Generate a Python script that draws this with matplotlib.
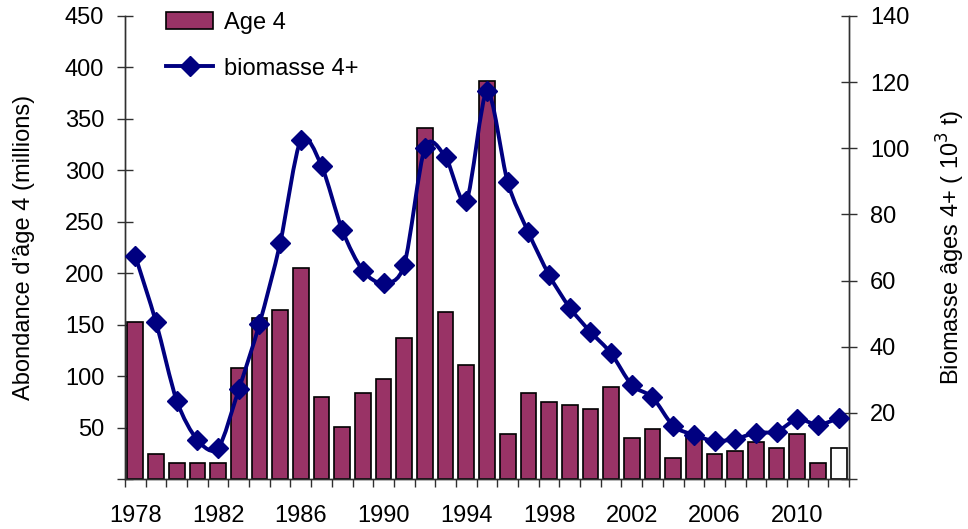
import matplotlib
matplotlib.use("Agg")
import matplotlib.pyplot as plt
from matplotlib.path import Path
from matplotlib.patches import PathPatch, Patch
from matplotlib.lines import Line2D
import numpy as np

plt.rcParams['font.family'] = ['Liberation Sans', 'DejaVu Sans']

years = list(range(1978, 2013))
age4 = [153, 24, 16, 16, 16, 108, 156, 164, 205, 80,
        51, 84, 97, 137, 341, 162, 111, 387, 44, 84,
        75, 72, 68, 89, 40, 49, 20, 42, 24, 27,
        36, 30, 44, 16, 30]
biomass = [67.4, 47.4, 23.7, 11.8, 9.3, 27.1, 46.9, 71.3, 102.5, 94.7,
           75.3, 63.0, 59.2, 64.8, 100.2, 97.3, 84.1, 117.3, 89.7, 74.6,
           61.7, 51.8, 44.5, 38.0, 28.4, 24.7, 16.1, 13.3, 11.5, 12.1,
           14.0, 14.3, 18.1, 16.4, 18.4]
xlabels = [str(y) if (y - 1978) % 4 == 0 else '' for y in years]

BAR = '#993366'
LINE = '#000080'
FS = 17

fig = plt.figure(figsize=(9.68, 5.29), dpi=100)
ax = fig.add_axes([125/968, 1-479/529, (849-125)/968, (479-16)/529])
ax2 = ax.twinx()

x = np.arange(len(years))
colors = [BAR] * (len(years) - 1) + ['white']
ax.bar(x, age4, width=0.76, color=colors, edgecolor='black', linewidth=1.2, zorder=2)
ax.set_xlim(-0.5, len(years) - 0.5)
ax.set_ylim(0, 450)
ax2.set_ylim(0, 140)

# smooth curve (Catmull-Rom style Bezier) through the biomass points
px = x.astype(float)
py = np.array(biomass, dtype=float)
verts = [(px[0], py[0])]
codes = [Path.MOVETO]
n = len(px)
k = 7.0
for i in range(n - 1):
    p0 = np.array([px[max(i-1, 0)], py[max(i-1, 0)]])
    p1 = np.array([px[i], py[i]])
    p2 = np.array([px[i+1], py[i+1]])
    p3 = np.array([px[min(i+2, n-1)], py[min(i+2, n-1)]])
    c1 = p1 + (p2 - p0) / k
    c2 = p2 - (p3 - p1) / k
    verts += [tuple(c1), tuple(c2), tuple(p2)]
    codes += [Path.CURVE4] * 3
ax2.add_patch(PathPatch(Path(verts, codes), fill=False, edgecolor=LINE, linewidth=2.8, zorder=3))
ax2.plot(px, py, linestyle='none', marker='D', markersize=10, color=LINE, zorder=4)

# spines
for a in (ax, ax2):
    a.spines['top'].set_visible(False)
    for s in ('left', 'right', 'bottom'):
        a.spines[s].set_color('#303030')
        a.spines[s].set_linewidth(1.0)

# y ticks
ax.set_yticks(np.arange(0, 451, 50))
ax.set_yticklabels([''] + [str(v) for v in range(50, 451, 50)])
ax.tick_params(axis='y', direction='inout', length=12, width=1, pad=9, labelsize=FS, color='#303030')
ax2.set_yticks(np.arange(0, 141, 20))
ax2.set_yticklabels([''] + [str(v) for v in range(20, 141, 20)])
ax2.tick_params(axis='y', direction='inout', length=12, width=1, pad=9, labelsize=FS, color='#303030')

# x ticks: labels at centers, tick marks at boundaries
ax.set_xticks(x)
ax.set_xticklabels(xlabels)
ax.tick_params(axis='x', which='major', length=0, pad=19, labelsize=FS)
ax.set_xticks(np.arange(-0.5, len(years), 1.0), minor=True)
ax.tick_params(axis='x', which='minor', direction='out', length=6, width=1, color='#303030')

ax.set_ylabel("Abondance d'âge 4 (millions)", fontsize=FS)
ax.yaxis.set_label_coords(-(125-35)/724, 0.5)
ax2.set_ylabel("Biomasse âges 4+ ( 10$^3$ t)", fontsize=FS)
ax2.yaxis.set_label_coords(1 + (935-849)/724, 0.5)

handles = [Patch(facecolor=BAR, edgecolor='black', linewidth=1.2),
           Line2D([], [], color=LINE, linewidth=2.8, marker='D', markersize=10)]
fig.legend(handles, ['Age 4', 'biomasse 4+'], loc='upper left',
           bbox_to_anchor=(166/968, 1-12/529), bbox_transform=fig.transFigure,
           frameon=False, fontsize=FS, borderpad=0, borderaxespad=0,
           handlelength=2.0, handletextpad=0.45, labelspacing=1.0)

fig.savefig('out.png', dpi=100)
